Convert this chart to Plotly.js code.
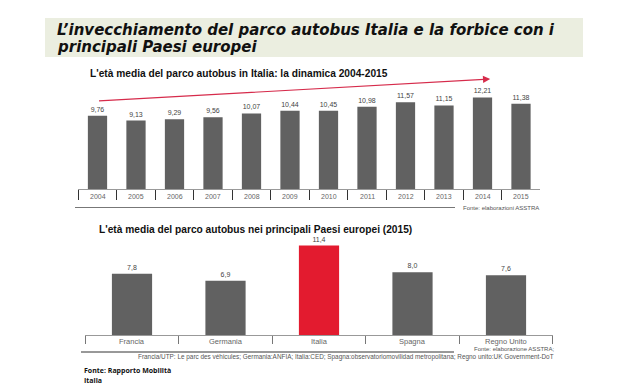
<!DOCTYPE html>
<html><head><meta charset="utf-8">
<script src="https://cdn.plot.ly/plotly-3.0.1.min.js"></script>
<style>html,body{margin:0;padding:0;background:#fff}#chart{width:630px;height:390px}</style>
</head><body><div id="chart"></div>
<script>
// Data
const years = ["2004","2005","2006","2007","2008","2009","2010","2011","2012","2013","2014","2015"];
const etaItalia = [9.76, 9.13, 9.29, 9.56, 10.07, 10.44, 10.45, 10.98, 11.57, 11.15, 12.21, 11.38];
const paesi = ["Francia","Germania","Italia","Spagna","Regno Unito"];
const etaPaesi = [7.8, 6.9, 11.4, 8.0, 7.6];

const W = 630, H = 390;
const px = v => v / W, py = v => 1 - v / H;

const grey = "#616161", red = "#E31B2F";
const paesiColors = paesi.map(p => p === "Italia" ? red : grey);

const traces = [
  {type:"bar", x: years, y: etaItalia, xaxis:"x", yaxis:"y",
   marker:{color:grey}, width:0.5,
   texttemplate:"%{y:.2f}", textposition:"outside", cliponaxis:false,
   textfont:{family:"Liberation Sans, Arial", size:7, color:"#444"}, hoverinfo:"skip"},
  {type:"bar", x: paesi, y: etaPaesi, xaxis:"x2", yaxis:"y2",
   marker:{color:paesiColors}, width:0.43,
   texttemplate:"%{y:.1f}", textposition:"outside", cliponaxis:false,
   textfont:{family:"Liberation Sans, Arial", size:7, color:"#444"}, hoverinfo:"skip"}
];

const layout = {
  width:W, height:H, margin:{l:0,r:0,t:0,b:0}, showlegend:false,
  paper_bgcolor:"#fff", plot_bgcolor:"rgba(0,0,0,0)",
  separators:",.",
  xaxis:{domain:[px(78.25), px(540.25)], anchor:"y", type:"category",
    range:[-0.5, years.length - 0.5],
    showline:true, linecolor:"#999", linewidth:1,
    ticks:"outside", tickson:"boundaries", ticklen:10, tickcolor:"#333", tickwidth:1,
    showticklabels:false, showgrid:false},
  yaxis:{domain:[py(189), py(70)], anchor:"x", range:[0, (189-70)/7.5],
    visible:false, showgrid:false, zeroline:false},
  xaxis2:{domain:[px(85.25), px(552.75)], anchor:"y2", type:"category",
    range:[-0.5, paesi.length - 0.5],
    showline:true, linecolor:"#999", linewidth:1,
    ticks:"outside", tickson:"boundaries", ticklen:8, tickcolor:"#777", tickwidth:1,
    showticklabels:false, showgrid:false},
  yaxis2:{domain:[py(335), py(232)], anchor:"x2", range:[0, (335-232)/7.85],
    visible:false, showgrid:false, zeroline:false},
  shapes:[
    {type:"rect", xref:"paper", yref:"paper", x0:px(45), x1:px(583), y0:py(57), y1:py(18),
     fillcolor:"#EBEEE0", line:{width:0}, layer:"below"},
    {type:"line", xref:"paper", yref:"paper", x0:px(75), x1:px(455), y0:py(207.5), y1:py(207.5),
     line:{color:"#777", width:1}},
    {type:"line", xref:"paper", yref:"paper", x0:px(81), x1:px(454), y0:py(352), y1:py(352),
     line:{color:"#333", width:1}}
  ],
  annotations:[
    {xref:"paper", yref:"paper", x:px(55), y:py(30), xanchor:"left", yanchor:"middle", showarrow:false,
     text:"<b><i>L’invecchiamento del parco autobus Italia e la forbice con i</i></b>",
     font:{family:"DejaVu Sans", size:15, color:"#111"}},
    {xref:"paper", yref:"paper", x:px(55), y:py(47), xanchor:"left", yanchor:"middle", showarrow:false,
     text:"<b><i>principali Paesi europei</i></b>",
     font:{family:"DejaVu Sans", size:15, color:"#111"}},
    {xref:"paper", yref:"paper", x:px(88), y:py(73), xanchor:"left", yanchor:"middle", showarrow:false,
     text:"<b>L'età media del parco autobus in Italia: la dinamica 2004-2015</b>",
     font:{family:"Liberation Sans, Arial", size:10.2, color:"#111"}},
    {xref:"paper", yref:"paper", x:px(97), y:py(229), xanchor:"left", yanchor:"middle", showarrow:false,
     text:"<b>L'età media del parco autobus nei principali Paesi europei (2015)</b>",
     font:{family:"Liberation Sans, Arial", size:10.2, color:"#111"}},
    {xref:"x", yref:"y", x:10.2, y:14.67, axref:"x", ayref:"y", ax:0, ay:11.73,
     showarrow:true, arrowhead:2, arrowsize:1.2, arrowwidth:1.2, arrowcolor:"#D62B4B", text:""},
    {xref:"paper", yref:"paper", x:px(541), y:py(208), xanchor:"right", yanchor:"middle", showarrow:false,
     text:"Fonte: elaborazioni ASSTRA", font:{family:"Liberation Sans, Arial", size:6, color:"#555"}},
    {xref:"paper", yref:"paper", x:px(556), y:py(349), xanchor:"right", yanchor:"middle", showarrow:false,
     text:"Fonte: elaborazione ASSTRA;", font:{family:"Liberation Sans, Arial", size:6, color:"#555"}},
    {xref:"paper", yref:"paper", x:px(556), y:py(356.5), xanchor:"right", yanchor:"middle", showarrow:false,
     text:"Francia/UTP: Le parc des véhicules; Germania:ANFIA; Italia:CED; Spagna:observatoriomovilidad metropolitana; Regno unito:UK Government-DoT",
     font:{family:"Liberation Sans, Arial", size:6.4, color:"#555"}},
    {xref:"paper", yref:"paper", x:px(82), y:py(370), xanchor:"left", yanchor:"middle", showarrow:false,
     text:"<b>Fonte: Rapporto Mobilità</b>", font:{family:"Open Sans", size:7, color:"#111"}},
    {xref:"paper", yref:"paper", x:px(82), y:py(380), xanchor:"left", yanchor:"middle", showarrow:false,
     text:"<b>Italia</b>", font:{family:"Open Sans", size:7, color:"#111"}}
  ]
};
// category labels placed through the category axes (by category index)
years.forEach((yr, i) => layout.annotations.push({xref:"x", yref:"paper", x:i, y:py(196.5),
  xanchor:"center", yanchor:"middle", showarrow:false, text:yr,
  font:{family:"Liberation Sans, Arial", size:7, color:"#666"}}));
paesi.forEach((p, i) => layout.annotations.push({xref:"x2", yref:"paper", x:i, y:py(341.5),
  xanchor:"center", yanchor:"middle", showarrow:false, text:p,
  font:{family:"Liberation Sans, Arial", size:7.5, color:"#666"}}));
Plotly.newPlot("chart", traces, layout, {displayModeBar:false, staticPlot:true});
</script></body></html>
